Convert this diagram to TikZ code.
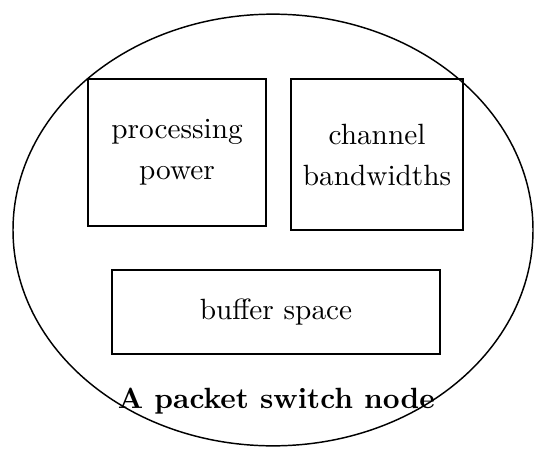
\documentclass[tikz,border=0pt]{standalone}
\usepackage{amsmath}
\usepackage{amssymb}
\usepackage{tikz}
\usetikzlibrary{shapes.geometric, positioning}

\begin{document}
\begin{tikzpicture}[node distance=2.4cm]
        \tikzstyle{res}=[draw, rectangle, line width=0.7pt, align=center, inner sep=0pt];
        \tikzstyle{outer}=[draw, ellipse, line width=0.5pt, inner sep=0pt, minimum width=6.24cm, minimum height=5.18cm];
        \useasboundingbox (-3.276,-2.616) rectangle (3.156,2.76);
        \node[outer] (switch) at (0,0) {};
        \node[res, minimum width=2.14cm, minimum height=1.76cm] (power) at (-1.152,0.93) {processing\\[2pt]power};
        \node[res, minimum width=2.06cm, minimum height=1.81cm, right of=power, yshift=-0.024cm] (bandwidth) {channel\\[2pt]bandwidths};
        \node[res, minimum width=3.94cm, minimum height=1.01cm] (buffer) at (0.036,-0.984) {buffer space};
        \node[font=\bfseries, inner sep=0pt] (label) at (0.04,-2.05) {A packet switch node};
      \end{tikzpicture}
\end{document}
